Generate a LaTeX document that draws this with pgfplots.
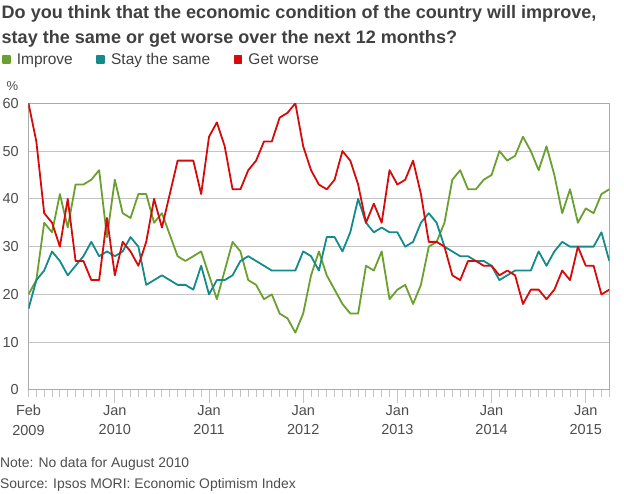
\documentclass[border=0pt]{standalone}
\usepackage{fontspec}
\setmainfont{Liberation Sans}
\setsansfont{Liberation Sans}
\usepackage{pgfplots}
\usepackage{pgfplotstable}
\pgfplotsset{compat=1.18}
\definecolor{cgreen}{RGB}{106,160,47}
\definecolor{cteal}{RGB}{20,138,138}
\definecolor{cred}{RGB}{214,10,10}
\definecolor{ctext}{RGB}{64,64,64}
\definecolor{ctick}{RGB}{77,77,77}
\definecolor{cgrid}{RGB}{196,196,196}
\definecolor{caxis}{RGB}{170,170,170}

\pgfplotstableread{
m g t r
0 20 17 60
1 23 23 52
2 35 25 37
3 33 29 35
4 41 27 30
5 34 24 40
6 43 26 27
7 43 28 27
8 44 31 23
9 46 28 23
10 32 29 36
11 44 28 24
12 37 29 31
13 36 32 29
14 41 30 26
15 41 22 31
16 35 23 40
17 37 24 34
19 28 22 48
20 27 22 48
21 28 21 48
22 29 26 41
23 24 20 53
24 19 23 56
25 25 23 51
26 31 24 42
27 29 27 42
28 23 28 46
29 22 27 48
30 19 26 52
31 20 25 52
32 16 25 57
33 15 25 58
34 12 25 60
35 16 29 51
36 24 28 46
37 29 25 43
38 24 32 42
39 21 32 44
40 18 29 50
41 16 33 48
42 16 40 43
43 26 35 35
44 25 33 39
45 29 34 35
46 19 33 46
47 21 33 43
48 22 30 44
49 18 31 48
50 22 35 41
51 30 37 31
52 31 35 31
53 35 30 30
54 44 29 24
55 46 28 23
56 42 28 27
57 42 27 27
58 44 27 26
59 45 26 26
60 50 23 24
61 48 24 25
62 49 25 24
63 53 25 18
64 50 25 21
65 46 29 21
66 51 26 19
67 45 29 21
68 37 31 25
69 42 30 23
70 35 30 30
71 38 30 26
72 37 30 26
73 41 33 20
74 42 27 21
}\datatable

\begin{document}
\begin{tikzpicture}[x=1pt,y=1pt]
\useasboundingbox (0,0) rectangle (624,494);
\node[anchor=base west, inner sep=0pt, font=\bfseries\fontsize{18.05}{20}\selectfont, text=ctext] at (1.5,475) {Do you think that the economic condition of the country will improve,};
\node[anchor=base west, inner sep=0pt, font=\bfseries\fontsize{18.05}{20}\selectfont, text=ctext] at (1.5,450.5) {stay the same or get worse over the next 12 months?};
\node[anchor=base west, inner sep=0pt, font=\fontsize{13}{15}\selectfont, text=ctick] at (6.5,403) {\%};
\begin{axis}[
  at={(28.5pt,104pt)}, anchor=south west, scale only axis,
  width=580.8pt, height=286.7pt,
  xmin=0, xmax=74, ymin=0, ymax=60,
  /pgf/number format/assume math mode=true,
  axis line style={draw=caxis, line width=1pt},
  ymajorgrids, grid style={draw=cgrid, line width=1pt},
  ytick={0,10,...,60},
  ytick style={draw=none},
  yticklabel style={font=\fontsize{14.5}{16}\selectfont, text=ctick, inner sep=0pt, anchor=east, xshift=3.5pt},
  tick align=outside,
  xtick pos=bottom,
  major tick length=13pt, minor tick length=7pt,
  xtick={11,23,35,47,59,71},
  xticklabels={Jan\\2010,Jan\\2011,Jan\\2012,Jan\\2013,Jan\\2014,Jan\\2015},
  extra x ticks={0},
  extra x tick labels={Feb\\2009},
  extra x tick style={xtick style={draw=none}},
  xticklabel style={font=\fontsize{14.5}{19.5}\selectfont, align=center, text=ctick, inner sep=0pt, anchor=north, yshift=-2pt},
  minor xtick={0,...,74},
  xtick style={draw=cgrid, line width=1pt},
  minor tick style={draw=cgrid, line width=1pt},
  legend columns=3,
  legend image code/.code={\fill[#1] (0pt,-3.5pt) rectangle (7pt,3.5pt);},
  legend style={at={(-0.0456,1.1528)}, anchor=west, draw=none, fill=none,
    inner sep=0pt, outer sep=0pt,
    font=\fontsize{15.5}{18}\selectfont, text=ctext,
    nodes={inner sep=0pt},
    /tikz/every odd column/.append style={column sep=6pt},
    /tikz/every even column/.append style={column sep=23.5pt}},
]
\addplot[color=cgreen, line width=1.8pt, line join=round] table[x=m,y=g] {\datatable};
\addlegendentry{Improve}
\addplot[color=cteal, line width=1.8pt, line join=round] table[x=m,y=t] {\datatable};
\addlegendentry{Stay the same}
\addplot[color=cred, line width=1.8pt, line join=round] table[x=m,y=r] {\datatable};
\addlegendentry{Get worse}
\draw[caxis, line width=2pt] (rel axis cs:0,0) -- (rel axis cs:1,0);
\end{axis}
\node[anchor=base west, inner sep=0pt, font=\fontsize{13.9}{16}\selectfont, text=ctick] at (0,26) {Note: No data for August 2010};
\node[anchor=base west, inner sep=0pt, font=\fontsize{13.9}{16}\selectfont, text=ctick] at (0,5) {Source: Ipsos MORI: Economic Optimism Index};
\end{tikzpicture}
\end{document}
